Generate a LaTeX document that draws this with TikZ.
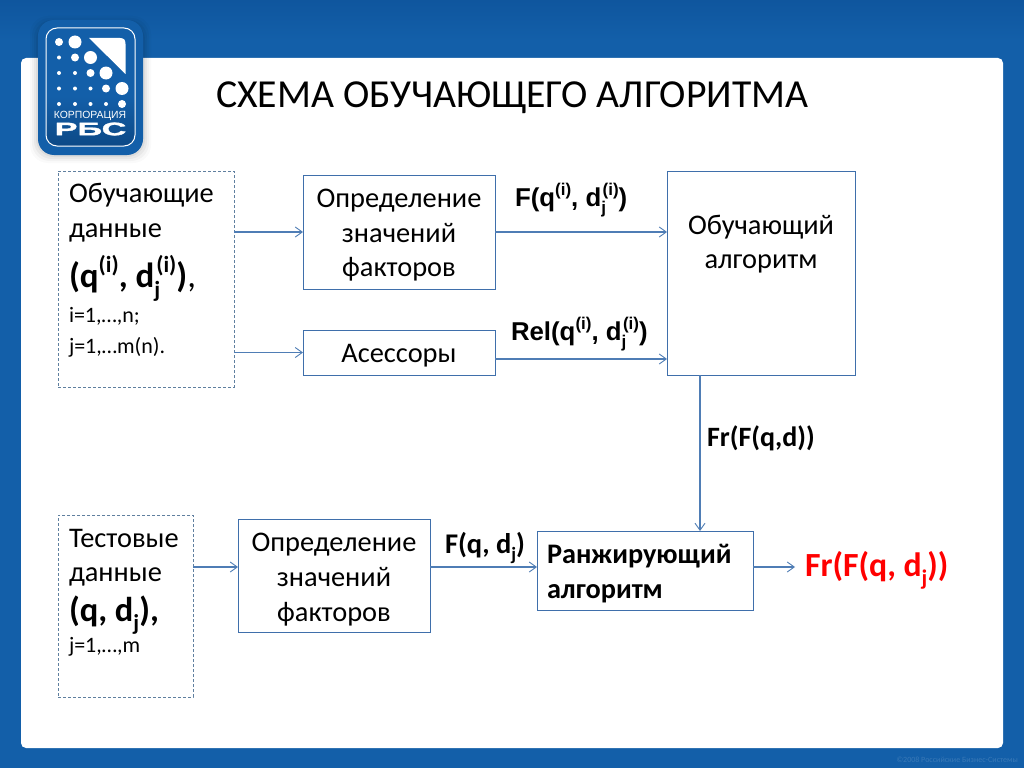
\documentclass[tikz,border=0pt]{standalone}
\usepackage{fontspec}
\setmainfont{Carlito}
\newfontfamily\arialfont{Liberation Sans}
\usetikzlibrary{arrows.meta,shadings}
\definecolor{bgblue}{HTML}{135FA9}
\definecolor{bgdark}{HTML}{0F569E}
\definecolor{linkblue}{HTML}{4F7DB5}
\definecolor{boxblue}{HTML}{3F6FAB}
\definecolor{dashgray}{HTML}{5F7F9F}
\newcommand{\SubSup}[2]{\rlap{\raisebox{-.28em}{\fontsize{.66em}{1em}\selectfont #1}}\raisebox{.42em}{\fontsize{.66em}{1em}\selectfont\kern.08em #2}}
\newcommand{\SubOnly}[1]{\raisebox{-.28em}{\fontsize{.66em}{1em}\selectfont #1}}
\newcommand{\SupOnly}[1]{\raisebox{.42em}{\fontsize{.66em}{1em}\selectfont #1}}
\tikzset{
  x=1pt,y=-1pt,
  solidbox/.style={draw=boxblue,line width=.9pt,fill=white,inner sep=0pt,outer sep=0pt},
  boxtext/.style={inner sep=0pt,outer sep=0pt,align=center,text=black,font=\fontsize{28.4}{34.7}\selectfont},
  dashbox/.style={draw=dashgray,dash pattern=on 3pt off 2pt,line width=.9pt,fill=white,inner sep=0pt,outer sep=0pt},
  linetext/.style={anchor=base west,inner sep=0pt,outer sep=0pt,text=black},
  link/.style={draw=linkblue,line width=1.1pt,-{Straight Barb[length=7pt,width=10pt,line width=.9pt]}},
  dot/.style={fill=white,draw=none},
}
\begin{document}
\begin{tikzpicture}
\useasboundingbox (0,0) rectangle (1024,768);
% slide frame
\fill[bgblue] (0,0) rectangle (1024,768);
\shade[top color=bgdark,bottom color=bgblue] (0,0) rectangle (1024,40);
\fill[white,rounded corners=5pt] (21,58) rectangle (1003,748);
\node[anchor=base east,inner sep=0pt,text=white,opacity=.16,font=\fontsize{8}{9}\selectfont] (copy) at (1018,762) {©2008 Российские Бизнес-Системы};
% logo
\foreach \g/\o in {8/.02,6/.03,4/.04,2/.05}{
  \fill[black,opacity=\o,rounded corners=18pt] (38-\g,20-\g+4) rectangle (143+\g,155+\g);
}
\fill[bgblue,rounded corners=16pt] (38,20) rectangle (143,155);
\fill[bgblue,rounded corners=11pt] (46,28) rectangle (135,146);
\begin{scope}
  \clip[rounded corners=11pt] (46,28) rectangle (135,146);
  \shade[top color=bgblue,bottom color=bgdark!85!black] (46,96) rectangle (135,146);
\end{scope}
\draw[white,line width=1pt,rounded corners=11pt] (46,28) rectangle (135,146);
\foreach \x/\y/\r in {59/42/4,75/42/6.5,
  59/57.5/2,75/57.5/4,90.5/57.5/6.5,
  59/73/2,75/73/2,90.5/73/4,106/73/6.5,
  59/88.5/2,75/88.5/2,90.5/88.5/2,106/88.5/4,122/88.5/6.5,
  59/104/2,75/104/2,90.5/104/2,106/104/2,122/104/4}{
  \fill[dot] (\x,\y) circle[radius=\r];
}
\fill[white] (89,38) -- (120,38) .. controls (124,38) and (125.5,40) .. (125.5,44) -- (125.5,74) -- cycle;
\node[inner sep=0pt,text=white,font=\arialfont\fontsize{10.4}{11}\selectfont] (corp) at (90,115.5) {КОРПОРАЦИЯ};
\node[inner sep=0pt,text=white,font=\arialfont\bfseries\fontsize{18}{19}\selectfont] (rbs) at (90.5,129) {\addfontfeature{FakeStretch=1.9,FakeBold=2}РБС};
% title
\node[anchor=base west,inner sep=0pt,text=black,font=\fontsize{39.7}{44}\selectfont] (title) at (216,107) {СХЕМА ОБУЧАЮЩЕГО АЛГОРИТМА};
% boxes
\node[dashbox,minimum width=176pt,minimum height=216pt] (train) at (146,279) {};
\node[solidbox,minimum width=192pt,minimum height=114pt] (factors) at (399,232) {};
\node[boxtext] (factorstext) at ([yshift=-3.2pt]factors.center) {Определение\\значений\\факторов};
\node[solidbox,minimum width=192pt,minimum height=45pt] (assess) at (399,352.5) {};
\node[boxtext] (assesstext) at ([yshift=-3.5pt]assess.center) {Асессоры};
\node[solidbox,minimum width=188pt,minimum height=204pt] (learn) at (761,273) {};
\node[linetext,anchor=base,font=\fontsize{28.4}{35}\selectfont] (learn1) at (761,234) {Обучающий};
\node[linetext,anchor=base,font=\fontsize{28.4}{35}\selectfont] (learn2) at (761,268.5) {алгоритм};
\node[dashbox,minimum width=135pt,minimum height=182pt] (test) at (125.5,606) {};
\node[solidbox,minimum width=192pt,minimum height=113pt] (tfactors) at (334,575.5) {};
\node[boxtext] (tfactorstext) at ([yshift=-4pt]tfactors.center) {Определение\\значений\\факторов};
\node[solidbox,minimum width=216pt,minimum height=79pt] (rank) at (645,570.5) {};
\node[linetext,font=\bfseries\fontsize{28.3}{30}\selectfont] (rank1) at (547,563) {Ранжирующий};
\node[linetext,font=\bfseries\fontsize{28.3}{30}\selectfont] (rank2) at (547,598) {алгоритм};
% text in the training box
\node[linetext,font=\fontsize{28.4}{30}\selectfont] (t1) at (69,202) {Обучающие};
\node[linetext,font=\fontsize{28.4}{30}\selectfont] (t2) at (69,237.5) {данные};
\node[linetext,font=\fontsize{35}{38}\selectfont] (t3) at (69,287.5) {\textbf{(q\SupOnly{(i)}, d\SubSup{j}{(i)})},};
\node[linetext,font=\fontsize{22}{24}\selectfont] (t4) at (69,322) {i=1,…,n;};
\node[linetext,font=\fontsize{22}{24}\selectfont] (t5) at (69,353) {j=1,…m(n).};
% text in the test box
\node[linetext,font=\fontsize{28.4}{30}\selectfont] (s1) at (69,547) {Тестовые};
\node[linetext,font=\fontsize{28.4}{30}\selectfont] (s2) at (69,581.5) {данные};
\node[linetext,font=\fontsize{34.5}{38}\selectfont] (s3) at (69,621) {\textbf{(q, d\SubOnly{j}),}};
\node[linetext,font=\fontsize{22}{24}\selectfont] (s4) at (69,652) {j=1,…,m};
% connector labels
\node[linetext,font=\arialfont\bfseries\fontsize{25.8}{28}\selectfont] (l1) at (515,206) {F(q\SupOnly{(i)}, d\SubSup{j}{(i)})};
\node[linetext,font=\arialfont\bfseries\fontsize{25.8}{28}\selectfont] (l2) at (511,340) {Rel(q\SupOnly{(i)}, d\SubSup{j}{(i)})};
\node[linetext,font=\bfseries\fontsize{28}{30}\selectfont] (l3) at (707,446) {Fr(F(q,d))};
\node[linetext,font=\bfseries\fontsize{28.5}{30}\selectfont] (l4) at (445,553) {F(q, d\SubOnly{j})};
\node[linetext,text=red,font=\bfseries\fontsize{33.8}{36}\selectfont] (l5) at (805,576.5) {Fr(F(q, d\SubOnly{j}))};
% connectors
\coordinate (learnout) at (700,375);
\coordinate (assessout) at (495,359);
\coordinate (testout) at (193,567);
\coordinate (tfin) at (238,567);
\coordinate (tfout) at (430,567);
\coordinate (rankin) at (537,567);
\coordinate (rankout) at (753,567);
\coordinate (result) at (795,567);
\draw[link] (train.east |- factors.west) -- (factors.west);
\draw[link] (train.east |- assess.west) -- (assess.west);
\draw[link] (factors.east) -- (factors.east -| learn.west);
\draw[link] (assessout) -- (assessout -| learn.west);
\draw[link] (learnout) -- (learnout |- rank.north);
\draw[link] (testout) -- (tfin);
\draw[link] (tfout) -- (rankin);
\draw[link] (rankout) -- (result);
\end{tikzpicture}
\end{document}
